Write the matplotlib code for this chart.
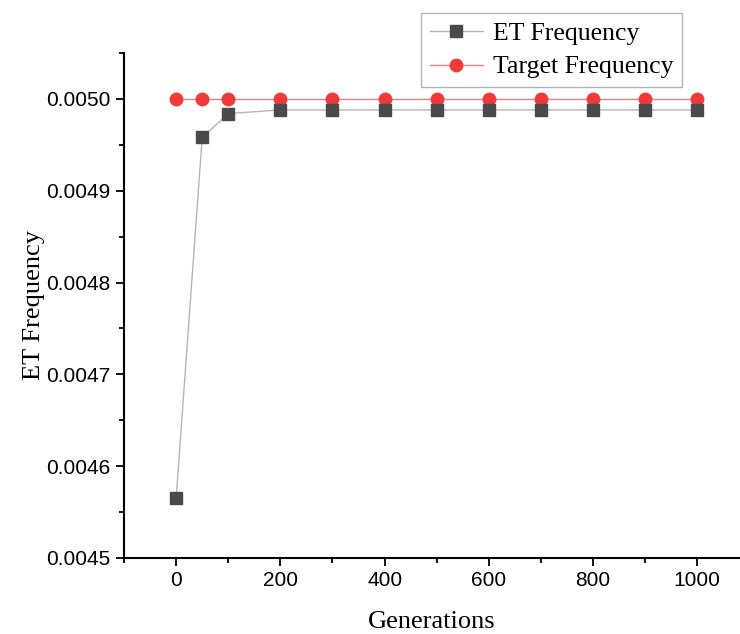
import matplotlib.pyplot as plt
from matplotlib.ticker import MultipleLocator

generations = [0, 50, 100, 200, 300, 400, 500, 600, 700, 800, 900, 1000]
et_frequency = [0.004565, 0.004958, 0.004984, 0.004988, 0.004988, 0.004988,
                0.004988, 0.004988, 0.004988, 0.004988, 0.004988, 0.004988]
target_frequency = [0.0050] * len(generations)

fig = plt.figure(figsize=(7.4, 6.34), dpi=100)
ax = fig.add_axes([0.1676, 0.1199, 0.8310, 0.7965])

ax.plot(generations, et_frequency, color="#b4b4b4", linewidth=1.0,
        marker="s", markersize=8.5, markerfacecolor="#4a4a4a",
        markeredgecolor="#4a4a4a", label="ET Frequency", zorder=3)
ax.plot(generations, target_frequency, color="#f08080", linewidth=1.0,
        marker="o", markersize=9, markerfacecolor="#f03a3a",
        markeredgecolor="#f03a3a", label="Target Frequency", zorder=2)

ax.set_xlim(-100, 1080)
ax.set_ylim(0.0045, 0.00505)
ax.xaxis.set_major_locator(MultipleLocator(200))
ax.xaxis.set_minor_locator(MultipleLocator(100))
ax.yaxis.set_major_locator(MultipleLocator(0.0001))
ax.yaxis.set_minor_locator(MultipleLocator(0.00005))
ax.yaxis.set_major_formatter(plt.FuncFormatter(lambda v, _: f"{v:.4f}"))

for side in ("top", "right"):
    ax.spines[side].set_visible(False)
for side in ("left", "bottom"):
    ax.spines[side].set_linewidth(1.5)

ax.tick_params(which="major", direction="out", length=5.5, width=1.3,
               labelsize=15, pad=4)
ax.tick_params(which="minor", direction="out", length=3.5, width=1.3)
for lbl in ax.get_xticklabels() + ax.get_yticklabels():
    lbl.set_fontfamily("Liberation Sans")

ax.set_xlabel("Generations", fontfamily="Liberation Serif", fontsize=19,
              labelpad=15)
ax.set_ylabel("ET Frequency", fontfamily="Liberation Serif", fontsize=19,
              labelpad=1)

leg = ax.legend(loc="upper left", bbox_to_anchor=(421 / 740, 1 - 13 / 634),
                bbox_transform=fig.transFigure,
                prop={"family": "Liberation Serif", "size": 18.5},
                frameon=True, fancybox=False, edgecolor="#a0a0a0",
                handlelength=2.05, handletextpad=0.4, borderpad=0.35,
                labelspacing=0.41, borderaxespad=0)
leg.get_frame().set_linewidth(1.0)

fig.savefig("out.png", dpi=100)
